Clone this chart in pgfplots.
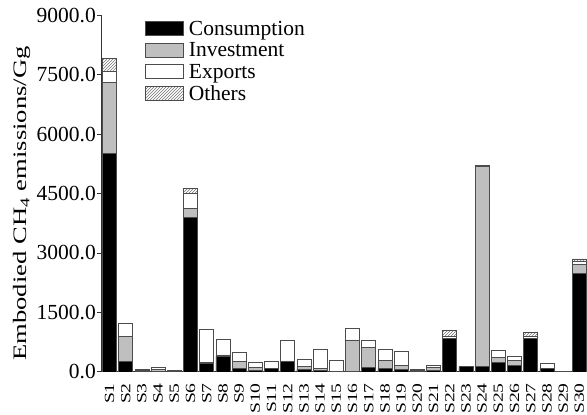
\documentclass[border=0pt]{standalone}
\usepackage{fontspec}
\setmainfont{Liberation Serif}
\newfontfamily\tallfont{Liberation Serif}[FakeStretch=1.4]
\usepackage{pgfplots}
\usepackage{pgfplotstable}
\pgfplotsset{compat=1.18}
\usetikzlibrary{patterns}

\newcommand\fs{\fontsize{21.5}{24}\selectfont}

% sector, consumption, investment, exports, others
\pgfplotstableread{
x  C    I    E   O
1  5500 1800 290 310
2  260  630  340 0
3  15   25   35  0
4  20   35   70  0
5  10   10   15  0
6  3900 230  370 130
7  210  30   840 0
8  400  30   390 0
9  90   170  230 0
10 40   80   125 0
11 90   10   160 0
12 260  20   530 0
13 75   75   180 0
14 30   60   490 0
15 10   0    280 0
16 20   790  290 0
17 120  500  170 0
18 90   195  295 0
19 70   90   370 0
20 10   30   35  0
21 50   70   55  0
22 850  0    40  150
23 130  0    0   0
24 130  5050 0   30
25 240  130  180 0
26 160  140  90  0
27 850  0    60  80
28 90   10   120 0
29 10   0    15  0
30 2490 220  70  70
}\emissions

\begin{document}
\begin{tikzpicture}
\begin{axis}[
  at={(0pt,0pt)}, anchor=south west,
  scale only axis, width=485pt, height=357pt,
  ybar stacked, bar width=14pt,
  xmin=0.537, xmax=30.47, ymin=0, ymax=9000,
  axis lines=left,
  axis line style={-, black!80, line width=1pt},
  ytick={0,1500,...,9000},
  scaled y ticks=false,
  xtick={1,...,30},
  xticklabels={S1,S2,S3,S4,S5,S6,S7,S8,S9,S10,S11,S12,S13,S14,S15,S16,S17,S18,S19,S20,S21,S22,S23,S24,S25,S26,S27,S28,S29,S30},
  xtick style={draw=none},
  ytick style={black!80, line width=1pt},
  major tick length=5pt, tick align=outside,
  ytick pos=left, xtick pos=bottom,
  yticklabel style={font=\fs, inner sep=1pt, /pgf/number format/.cd, fixed, fixed zerofill, precision=1, 1000 sep={}, assume math mode=true},
  xticklabel style={font=\tallfont\fontsize{14}{16}\selectfont, rotate=90, anchor=east, inner sep=0pt},
  xticklabel shift=6pt,
  ylabel={Embodied CH\textsubscript{4} emissions/Gg},
  every axis y label/.style={at={(axis description cs:-0.165,0.472)}, rotate=90, anchor=center, font=\tallfont\fontsize{19}{21}\selectfont},
  legend cell align=left,
  legend image code/.code={\draw[#1] (0pt,-7pt) rectangle (38pt,7pt);},
  legend style={at={(rel axis cs:0.0887,0.984)}, anchor=north west,
    draw=none, fill=none, inner sep=0pt, font=\fs,
    nodes={inner sep=0pt, text height=14pt, text depth=0pt},
    row sep=7pt, column sep=5pt},
  every axis plot/.append style={draw=black!70, line width=0.7pt},
]
\addplot[fill=black] table[x=x,y=C]{\emissions};
\addlegendentry{Consumption}
\addplot[fill=black!25] table[x=x,y=I]{\emissions};
\addlegendentry{Investment}
\addplot[fill=white] table[x=x,y=E]{\emissions};
\addlegendentry{Exports}
\addplot[pattern=north east lines, pattern color=black!55] table[x=x,y=O]{\emissions};
\addlegendentry{Others}
\end{axis}
\pgfresetboundingbox
\path[use as bounding box] (-102pt,-43pt) rectangle (485pt,372pt);
\end{tikzpicture}
\end{document}
